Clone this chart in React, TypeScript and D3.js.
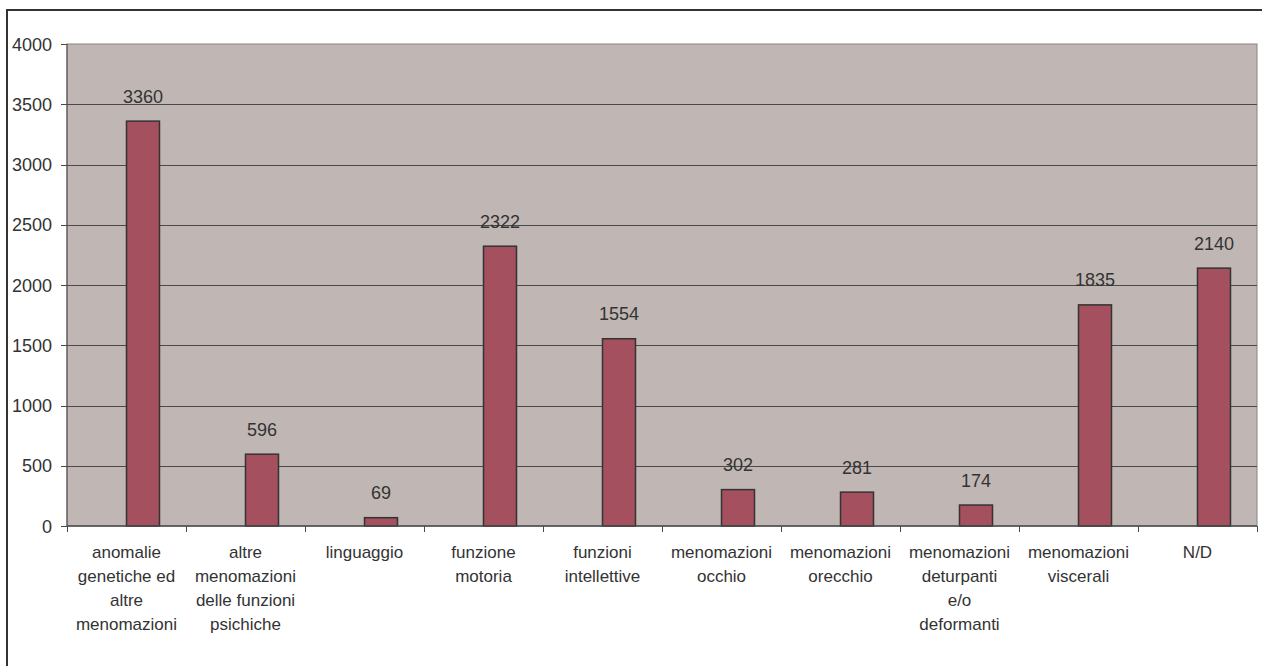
import React from "react";
import * as d3 from "d3";

const categories: string[][] = [
  ["anomalie", "genetiche ed", "altre", "menomazioni"],
  ["altre", "menomazioni", "delle funzioni", "psichiche"],
  ["linguaggio"],
  ["funzione", "motoria"],
  ["funzioni", "intellettive"],
  ["menomazioni", "occhio"],
  ["menomazioni", "orecchio"],
  ["menomazioni", "deturpanti", "e/o", "deformanti"],
  ["menomazioni", "viscerali"],
  ["N/D"],
];
const values: number[] = [3360, 596, 69, 2322, 1554, 302, 281, 174, 1835, 2140];
const yTicks: number[] = [0, 500, 1000, 1500, 2000, 2500, 3000, 3500, 4000];

export default function App() {
  const W = 1262, H = 666;
  const left = 67, right = 1257, top = 44, bottom = 526;
  const x = d3.scaleBand<number>().domain(d3.range(values.length)).range([left, right]).padding(0);
  const y = d3.scaleLinear().domain([0, 4000]).range([bottom, top]);
  const bw = 33;
  const font = "Liberation Sans, Arial, sans-serif";
  const fs = 18;
  const fsCat = 17;
  const txt = "#333333";
  return (
    <svg width={W} height={H} style={{ position: "absolute", left: 0, top: 0 }}>
      <rect x={0} y={0} width={W} height={H} fill="#ffffff" />
      <rect x={7} y={10} width={W + 10} height={H + 10} fill="none" stroke="#333333" strokeWidth={2} />
      <rect x={left} y={top} width={right - left} height={bottom - top} fill="#C0B7B4" stroke="#8a8282" strokeWidth={1} />
      {yTicks.map((t) => (
        <g key={t}>
          {t > 0 && t < 4000 && (
            <line x1={left} x2={right} y1={Math.round(y(t)) + 0.5} y2={Math.round(y(t)) + 0.5} stroke="#4a4a4a" strokeWidth={1} />
          )}
          <line x1={left - 6} x2={left} y1={Math.round(y(t)) + 0.5} y2={Math.round(y(t)) + 0.5} stroke="#4a4a4a" strokeWidth={1} />
          <text x={52} y={y(t) + 6.5} textAnchor="end" fontFamily={font} fontSize={fs} fill={txt}>{t}</text>
        </g>
      ))}
      {values.map((v, i) => {
        const cx = (x(i) as number) + x.bandwidth() / 2;
        return (
          <g key={i}>
            <rect x={cx} y={y(v)} width={bw} height={bottom - y(v)} fill="#A5505E" stroke="#333333" strokeWidth={1.5} />
            <text x={cx + bw / 2} y={y(v) - 18.5} textAnchor="middle" fontFamily={font} fontSize={fs} fill={txt}>{v}</text>
          </g>
        );
      })}
      <line x1={left} x2={right} y1={bottom} y2={bottom} stroke="#4a4a4a" strokeWidth={1.5} />
      <line x1={left} x2={left} y1={top} y2={bottom} stroke="#4a4a4a" strokeWidth={1} />
      {d3.range(values.length + 1).map((i) => {
        const xx = Math.round(left + i * x.bandwidth()) + 0.5;
        return <line key={i} x1={xx} x2={xx} y1={bottom} y2={bottom + 6} stroke="#4a4a4a" strokeWidth={1} />;
      })}
      {categories.map((lines, i) => {
        const cx = (x(i) as number) + x.bandwidth() / 2;
        return (
          <text key={i} textAnchor="middle" fontFamily={font} fontSize={fsCat} fill={txt}>
            {lines.map((l, j) => (
              <tspan key={j} x={cx} y={558 + j * 24}>{l}</tspan>
            ))}
          </text>
        );
      })}
    </svg>
  );
}
